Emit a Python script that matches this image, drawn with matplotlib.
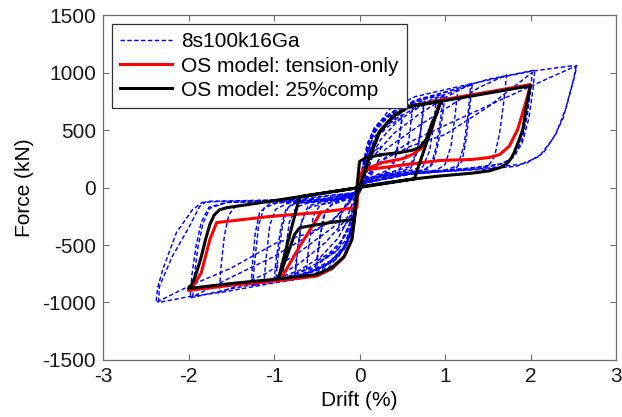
import matplotlib
matplotlib.use("Agg")
import matplotlib.pyplot as plt

plt.rcParams.update({
    "font.family": ["Liberation Sans", "DejaVu Sans"],
    "font.size": 15,
    "axes.unicode_minus": False,
})

# ---- test 8s100k16Ga, hysteresis cycles (drift %, force kN) ----
c025_x = [0.00, 0.04, 0.10, 0.18, 0.25, 0.22, 0.15, 0.06, 0.00, -0.04, -0.10, -0.18, -0.25, -0.22, -0.15, -0.06, 0.00]
c025_y = [0, 120, 250, 320, 360, 230, 120, 60, 10, -110, -260, -340, -380, -240, -130, -70, -10]

c050a_x = [0.00, 0.05, 0.12, 0.22, 0.35, 0.50, 0.47, 0.42, 0.33, 0.20, 0.08, 0.00, -0.05, -0.12, -0.22, -0.35, -0.50, -0.47, -0.42, -0.33, -0.20, -0.08, 0.00]
c050a_y = [-10, 140, 320, 450, 540, 610, 450, 260, 150, 110, 70, 20, -140, -330, -470, -570, -640, -460, -250, -150, -120, -80, -20]
c050b_x = [0.00, 0.03, 0.08, 0.15, 0.28, 0.50, 0.46, 0.40, 0.30, 0.15, 0.00, -0.03, -0.08, -0.15, -0.28, -0.50, -0.46, -0.40, -0.30, -0.15, 0.00]
c050b_y = [-20, 100, 280, 420, 530, 630, 400, 210, 120, 80, 20, -110, -300, -450, -560, -660, -420, -210, -130, -100, -30]

c060_x = [0.00, 0.03, 0.09, 0.18, 0.32, 0.48, 0.62, 0.59, 0.54, 0.46, 0.30, 0.10, 0.00, -0.03, -0.09, -0.18, -0.32, -0.48, -0.62, -0.59, -0.54, -0.46, -0.30, -0.10, 0.00]
c060_y = [-30, 160, 380, 530, 620, 670, 700, 480, 250, 150, 120, 80, 20, -170, -390, -540, -630, -690, -720, -480, -250, -150, -125, -90, -30]

c075a_x = [0.00, 0.06, 0.15, 0.28, 0.45, 0.60, 0.75, 0.72, 0.67, 0.60, 0.45, 0.25, 0.00, -0.06, -0.15, -0.28, -0.45, -0.60, -0.75, -0.72, -0.67, -0.60, -0.45, -0.25, 0.00]
c075a_y = [-30, 180, 380, 520, 610, 670, 730, 520, 300, 170, 130, 100, 30, -200, -400, -540, -640, -700, -750, -520, -280, -160, -130, -110, -40]
c075b_x = [0.00, 0.04, 0.10, 0.20, 0.35, 0.55, 0.76, 0.73, 0.68, 0.58, 0.40, 0.15, 0.00, -0.04, -0.10, -0.20, -0.35, -0.55, -0.76, -0.73, -0.68, -0.58, -0.40, -0.15, 0.00]
c075b_y = [-40, 150, 360, 520, 620, 700, 760, 560, 320, 180, 140, 90, 30, -180, -390, -550, -650, -720, -770, -560, -300, -170, -140, -100, -40]

c090_x = [0.00, 0.05, 0.14, 0.28, 0.48, 0.70, 0.90, 0.87, 0.82, 0.74, 0.60, 0.30, 0.00, -0.05, -0.14, -0.28, -0.48, -0.70, -0.90, -0.87, -0.82, -0.74, -0.60, -0.30, 0.00]
c090_y = [-40, 200, 450, 600, 700, 760, 790, 560, 320, 180, 150, 110, 30, -220, -470, -620, -710, -760, -790, -560, -300, -170, -135, -105, -40]

c100a_x = [0.00, 0.10, 0.25, 0.45, 0.70, 1.00, 0.97, 0.92, 0.86, 0.80, 0.55, 0.25, 0.00, -0.10, -0.25, -0.45, -0.70, -1.00, -0.97, -0.92, -0.86, -0.78, -0.50, -0.20, 0.00]
c100a_y = [-40, 220, 420, 580, 700, 800, 620, 380, 210, 160, 130, 100, 30, -230, -440, -600, -720, -800, -600, -350, -190, -140, -120, -100, -40]
c100b_x = [0.00, 0.04, 0.12, 0.25, 0.45, 0.70, 0.98, 0.95, 0.90, 0.84, 0.75, 0.45, 0.15, 0.00, -0.04, -0.12, -0.25, -0.45, -0.70, -0.98, -0.95, -0.90, -0.84, -0.75, -0.45, -0.15, 0.00]
c100b_y = [-40, 180, 420, 580, 690, 760, 810, 600, 360, 200, 150, 120, 80, 30, -190, -450, -610, -710, -770, -810, -580, -330, -180, -135, -120, -90, -40]

c115_x = [0.00, 0.06, 0.18, 0.40, 0.70, 1.15, 1.12, 1.07, 1.00, 0.90, 0.50, 0.15, 0.00, -0.06, -0.18, -0.40, -0.70, -1.12, -1.09, -1.05, -0.98, -0.85, -0.45, -0.15, 0.00]
c115_y = [-40, 230, 500, 660, 760, 860, 640, 360, 200, 150, 120, 80, 30, -240, -520, -680, -770, -840, -600, -330, -190, -140, -115, -90, -40]

c130a_x = [0.00, 0.15, 0.40, 0.70, 1.00, 1.32, 1.29, 1.25, 1.20, 1.12, 0.80, 0.40, 0.00, -0.15, -0.40, -0.70, -1.00, -1.27, -1.25, -1.22, -1.17, -1.05, -0.70, -0.30, 0.00]
c130a_y = [-40, 260, 470, 640, 780, 910, 700, 430, 230, 160, 140, 110, 30, -270, -480, -660, -790, -860, -650, -400, -220, -140, -120, -100, -40]
c130b_x = [0.00, 0.08, 0.25, 0.55, 0.90, 1.30, 1.27, 1.22, 1.15, 1.00, 0.60, 0.20, 0.00, -0.08, -0.25, -0.55, -0.90, -1.25, -1.22, -1.18, -1.12, -0.95, -0.55, -0.20, 0.00]
c130b_y = [-40, 250, 520, 680, 780, 890, 640, 360, 190, 150, 120, 90, 30, -260, -540, -700, -790, -850, -600, -330, -180, -130, -115, -90, -40]

c170_x = [0.00, 0.30, 0.70, 1.10, 1.40, 1.72, 1.69, 1.64, 1.58, 1.50, 1.10, 0.50, 0.00, -0.30, -0.70, -1.10, -1.40, -1.64, -1.62, -1.58, -1.53, -1.45, -1.00, -0.50, 0.00]
c170_y = [-40, 330, 540, 730, 870, 980, 760, 480, 270, 180, 150, 110, 30, -340, -560, -750, -850, -910, -690, -420, -240, -160, -125, -110, -40]

c200a_x = [0.00, 0.10, 0.30, 0.60, 1.00, 1.50, 2.02, 2.00, 1.96, 1.90, 1.82, 1.70, 1.30, 0.70, 0.00, -0.10, -0.30, -0.60, -1.00, -1.50, -1.95, -1.93, -1.89, -1.83, -1.75, -1.55, -1.00, -0.40, 0.00]
c200a_y = [-40, 120, 250, 360, 460, 700, 1000, 840, 620, 420, 280, 210, 170, 130, 30, -120, -270, -420, -600, -780, -950, -760, -520, -310, -180, -130, -120, -100, -40]
c200b_x = [0.00, 0.05, 0.15, 0.35, 0.65, 1.00, 1.50, 2.05, 2.03, 1.98, 1.90, 1.78, 1.60, 1.20, 0.60, 0.00, -0.05, -0.15, -0.35, -0.65, -1.00, -1.50, -1.98, -1.96, -1.91, -1.85, -1.76, -1.55, -1.00, -0.40, 0.00]
c200b_y = [-40, 200, 450, 640, 760, 830, 940, 1020, 860, 600, 380, 250, 190, 160, 120, 30, -230, -480, -660, -760, -810, -880, -960, -760, -500, -300, -170, -130, -120, -100, -40]

c250a_x = [0.00, 0.10, 0.30, 0.60, 1.00, 1.50, 2.00, 2.54, 2.52, 2.46, 2.38, 2.26, 2.10, 1.84, 1.48, 1.00, 0.50, 0.00, -0.10, -0.30, -0.60, -0.97, -1.50, -2.00, -2.38, -2.36, -2.30, -2.14, -1.95, -1.84, -1.67, -1.20, -0.60, 0.00]
c250a_y = [-40, 110, 260, 400, 540, 710, 880, 1060, 980, 820, 600, 420, 270, 185, 160, 140, 110, 30, -110, -280, -400, -480, -700, -860, -1000, -870, -710, -390, -190, -130, -122, -115, -100, -40]
c250b_x = [0.00, 0.05, 0.15, 0.35, 0.65, 1.00, 1.60, 2.00, 2.50, 2.53, 2.50, 2.42, 2.30, 2.15, 1.95, 1.60, 1.20, 0.60, 0.00, -0.05, -0.15, -0.35, -0.65, -1.00, -1.60, -2.00, -2.35, -2.34, -2.19, -1.99, -1.87, -1.79, -1.40, -0.80, 0.00]
c250b_y = [-40, 230, 480, 680, 790, 850, 950, 1010, 1060, 1040, 930, 700, 470, 300, 210, 175, 150, 120, 30, -250, -500, -690, -790, -830, -910, -950, -1000, -860, -600, -340, -165, -120, -115, -105, -40]

test_cycles = [
    (c025_x, c025_y), (c050a_x, c050a_y), (c050b_x, c050b_y),
    (c060_x, c060_y), (c075a_x, c075a_y), (c075b_x, c075b_y),
    (c090_x, c090_y), (c100a_x, c100a_y), (c100b_x, c100b_y),
    (c115_x, c115_y), (c130a_x, c130a_y), (c130b_x, c130b_y),
    (c170_x, c170_y), (c200a_x, c200a_y), (c200b_x, c200b_y),
    (c250a_x, c250a_y), (c250b_x, c250b_y),
]

# ---- OS model, tension-only ----
ten_x = [0.00, 0.05, 0.12, 0.23, 0.39, 0.58, 0.95, 1.50, 2.00,
         1.96, 1.93, 1.85, 1.75, 1.64, 1.52, 1.32, 0.94, 0.50, 0.04, 0.00,
         -0.02, -0.03, -0.47, -1.05, -1.67,
         -1.75, -1.85, -1.93, -1.97, -2.00,
         -1.50, -0.95, -0.50, -0.32, -0.18, -0.09, -0.06, -0.04, 0.00]
ten_y = [-17, 110, 270, 478, 618, 705, 760, 830, 895,
         780, 705, 505, 357, 287, 261, 244, 235, 195, 150, 100,
         -50, -174, -217, -252, -305,
         -452, -740, -840, -880, -895,
         -850, -810, -770, -705, -605, -455, -280, -104, -17]
ten_pos_x = [0.04, 0.27, 0.50, 0.62, 0.72, 0.78, 0.85, 0.91, 0.95]
ten_pos_y = [150, 217, 250, 287, 340, 400, 520, 680, 760]
ten_neg_x = [-0.45, -0.70, -0.90, -0.95]
ten_neg_y = [-215, -513, -770, -810]

# ---- OS model, 25% compression ----
comp_x = [0.00, 0.05, 0.12, 0.23, 0.39, 0.58, 0.95,
          0.64, 0.30, 0.00,
          -0.04, -0.06, -0.09, -0.18, -0.32, -0.50, -0.95,
          -0.70, -0.35, 0.00,
          0.05, 0.12, 0.23, 0.39, 0.58, 0.95,
          0.90, 0.85, 0.78, 0.70, 0.62, 0.47, 0.27, 0.08, 0.00,
          -0.03, -0.06, -0.30, -0.55, -0.70, -0.76, -0.85, -0.95,
          -1.50, -2.00,
          -1.96, -1.93, -1.89, -1.85, -1.80, -1.75, -1.70, -1.64, -1.55,
          -1.05, -0.70, 0.00, 0.64, 0.94, 1.32, 1.52,
          1.65, 1.72, 1.77, 1.81, 1.86, 1.91, 1.96, 2.00,
          1.50, 0.95]
comp_y = [-17, 110, 270, 478, 618, 705, 750,
          75, 40, 5,
          -104, -278, -452, -600, -696, -757, -795,
          -80, -40, 0,
          110, 270, 478, 618, 705, 750,
          640, 565, 418, 345, 325, 304, 287, 261, 226,
          0, -278, -300, -330, -350, -409, -600, -795,
          -835, -878,
          -840, -790, -700, -600, -450, -320, -240, -195, -175,
          -120, -80, 0, 75, 100, 125, 145,
          175, 205, 250, 305, 400, 505, 740, 885,
          820, 750]

fig = plt.figure(figsize=(6.22, 4.17), dpi=100)
ax = fig.add_axes([0.1656, 0.1367, 0.8248, 0.8273])

for i, (cx, cy) in enumerate(test_cycles):
    ax.plot(cx, cy, color="#0000ff", lw=1.05, dashes=(3.0, 1.7), zorder=1,
            label="8s100k16Ga" if i == 0 else None)

ax.plot(ten_x, ten_y, color="#ff0000", lw=2.2, zorder=2, label="OS model: tension-only")
ax.plot(ten_pos_x, ten_pos_y, color="#ff0000", lw=2.2, zorder=2)
ax.plot(ten_neg_x, ten_neg_y, color="#ff0000", lw=2.2, zorder=2)
ax.plot(comp_x, comp_y, color="k", lw=2.2, zorder=3, label="OS model: 25%comp")

ax.set_xlim(-3, 3)
ax.set_ylim(-1500, 1500)
ax.set_xticks([-3, -2, -1, 0, 1, 2, 3])
ax.set_yticks([-1500, -1000, -500, 0, 500, 1000, 1500])
ax.set_xlabel("Drift (%)", labelpad=4)
ax.set_ylabel("Force (kN)", labelpad=6)

for sp in ax.spines.values():
    sp.set_color("#707070")
    sp.set_linewidth(0.9)
ax.tick_params(direction="in", top=True, right=True, length=4, width=0.8,
               color="#707070", labelcolor="#1a1a1a", pad=5)

leg = ax.legend(loc="upper left", bbox_to_anchor=(0.0175, 0.974), borderaxespad=0,
                fancybox=False, edgecolor="#333333", framealpha=1,
                handlelength=2.5, handletextpad=0.4, labelspacing=0.25,
                borderpad=0.4)
leg.get_frame().set_linewidth(0.9)

fig.savefig("out.png", dpi=100)
